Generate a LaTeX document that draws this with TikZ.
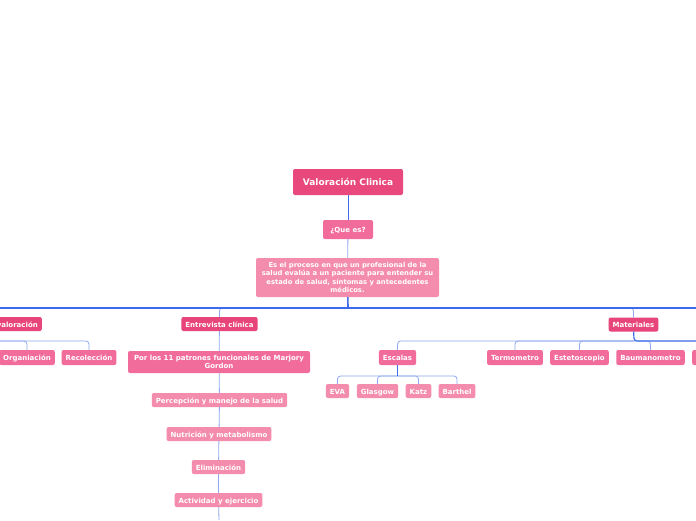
\documentclass[tikz,border=0pt]{standalone}
\usepackage{fontspec}
\setmainfont{DejaVu Sans}
\usetikzlibrary{positioning,calc}

\definecolor{rootpink}{HTML}{E9487D}
\definecolor{darkpink}{HTML}{E8457B}
\definecolor{midpink}{HTML}{F26C9B}
\definecolor{lightpink}{HTML}{F48CAD}
\definecolor{darkline}{HTML}{3D6BEB}
\definecolor{softline}{HTML}{8FA9F0}

\tikzset{
  box/.style={rounded corners=2pt, text=white, align=center, inner ysep=0pt, inner xsep=4pt, font=\bfseries\fontsize{7}{8.6}\selectfont},
  oneline/.style={text height=1.55ex, text depth=0.45ex},
  rootbox/.style={box, oneline, fill=rootpink, minimum height=26pt, minimum width=110pt, font=\bfseries\fontsize{9}{11}\selectfont},
  lvlone/.style={box, oneline, fill=darkpink, minimum height=14pt, font=\bfseries\fontsize{7}{9}\selectfont},
  lvltwo/.style={box, oneline, fill=midpink, minimum height=15pt},
  lvlthree/.style={box, oneline, fill=lightpink, minimum height=14pt},
  mainline/.style={darkline, line width=1.6pt},
  thinline/.style={softline, line width=0.8pt, rounded corners=3pt},
  boldline/.style={darkline, line width=1.2pt, rounded corners=3pt}
}

\begin{document}
\begin{tikzpicture}[x=1pt, y=-1pt]
\useasboundingbox (0,0) rectangle (696,520);
\clip (0,0) rectangle (696,520);
\fill[white] (0,0) rectangle (696,520);

% Connector junctions
\coordinate (hub) at (348,308);
\coordinate (barleft) at (0,308);
\coordinate (barright) at (696,308);
\coordinate (valbar) at (0,341);
\coordinate (matbar) at (634,341);
\coordinate (matright) at (696,341);
\coordinate (escbar) at (397.5,376);
\coordinate (bottomend) at (219,520);

% Root and description
\node[rootbox] (root) at (348,182) {Valoración Clinica};
\node[box, oneline, fill=midpink, minimum height=19pt, minimum width=50pt] (que) at (348,229.5) {¿Que es?};
\node[box, fill=lightpink, minimum height=39pt, minimum width=183pt, font=\bfseries\fontsize{6.8}{8.4}\selectfont] (desc) at (347.5,277.5)
  {Es el proceso en que un profesional de la\\salud evalúa a un paciente para entender su\\estado de salud, síntomas y antecedentes\\médicos.};

% Level one
\node[lvlone, anchor=east] (valoracion) at (42,324) {valoración};
\node[lvlone] (entrevista) at (219.5,324) {Entrevista clínica};
\node[lvlone] (materiales) at (633.5,324.5) {Materiales};

% Children of valoracion
\node[lvltwo] (organiacion) at (27,357.5) {Organiación};
\node[lvltwo] (recoleccion) at (89,357.5) {Recolección};

% Children of entrevista
\node[box, fill=midpink, minimum height=22pt, minimum width=182pt] (patrones) at (219,362) {Por los 11 patrones funcionales de Marjory\\Gordon};
\node[lvlthree] (percepcion) at (219.5,400) {Percepción y manejo de la salud};
\node[lvlthree] (nutricion) at (219,434) {Nutrición y metabolismo};
\node[lvlthree] (eliminacion) at (218.5,467) {Eliminación};
\node[lvlthree] (actividad) at (218.5,500) {Actividad y ejercicio};

% Children of materiales
\node[lvltwo] (escalas) at (397.5,357.5) {Escalas};
\node[lvltwo] (termometro) at (515,357.5) {Termometro};
\node[lvltwo] (estetoscopio) at (579.5,357.5) {Estetoscopio};
\node[lvltwo] (baumanometro) at (650.5,357.5) {Baumanometro};
\node[lvltwo, anchor=west, minimum width=30pt] (masmaterial) at (692,357.5) {};

% Children of escalas
\node[lvlthree] (eva) at (337.5,391) {EVA};
\node[lvlthree] (glasgow) at (377.5,391) {Glasgow};
\node[lvlthree] (katz) at (418.5,391) {Katz};
\node[lvlthree] (barthel) at (457,391) {Barthel};

% Connectors
\draw[darkline, line width=1pt] (root) -- (que);
\draw[softline, line width=0.8pt] (que) -- (desc);
\draw[mainline] (desc) -- (hub);
\draw[thinline] (hub) -| (entrevista.north);
\draw[thinline] (hub) -| (materiales.north);
\draw[mainline] (barleft) -- (barright);

\draw[thinline] (valbar) -| (organiacion.north);
\draw[thinline] (valbar) -| (recoleccion.north);

\draw[thinline] (entrevista) -- (patrones);
\draw[thinline] (patrones) -- (percepcion);
\draw[thinline] (percepcion) -- (nutricion);
\draw[thinline] (nutricion) -- (eliminacion);
\draw[thinline] (eliminacion) -- (actividad);
\draw[thinline] (actividad) -- (bottomend);

\draw[thinline] (matbar) -| (escalas.north);
\draw[thinline] (matbar) -| (termometro.north);
\draw[thinline] (matbar) -| (estetoscopio.north);
\draw[thinline] (matbar) -| (baumanometro.north);
\draw[boldline] (materiales) -- (matbar) -- (matright);

\draw[thinline] (escbar) -| (eva.north);
\draw[thinline] (escbar) -| (glasgow.north);
\draw[thinline] (escbar) -| (katz.north);
\draw[thinline] (escbar) -| (barthel.north);
\draw[boldline] (escalas) -- (escbar);
\end{tikzpicture}
\end{document}
